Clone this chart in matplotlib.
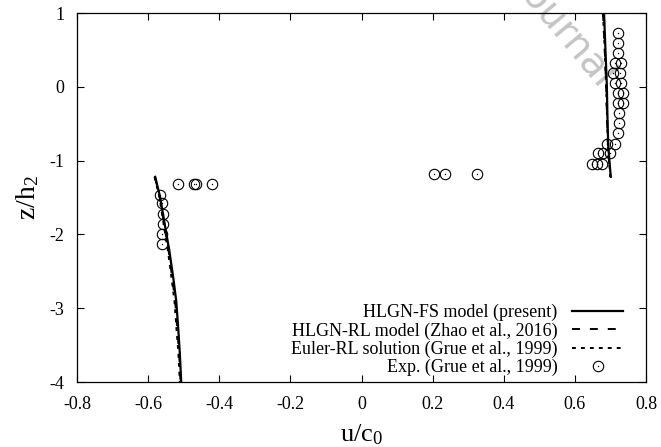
import numpy as np
from matplotlib import pyplot as plt

plt.rcParams['font.family'] = ['Liberation Serif', 'DejaVu Serif']
plt.rcParams['mathtext.fontset'] = 'custom'
plt.rcParams['mathtext.rm'] = 'Liberation Serif'
plt.rcParams['mathtext.it'] = 'Liberation Serif:italic'
plt.rcParams['axes.unicode_minus'] = False

# HLGN-FS model (present), two branches
fs_left_z = [-1.22, -1.5, -1.9, -2.2, -2.6, -2.9, -3.3, -3.6, -4.0]
fs_left_u = [-0.580, -0.566, -0.552, -0.541, -0.529, -0.521, -0.515, -0.511, -0.507]
fs_right_z = [1.0, 0.5, 0.0, -0.5, -0.8, -1.0, -1.22]
fs_right_u = [0.682, 0.686, 0.690, 0.692, 0.694, 0.697, 0.701]

# HLGN-RL model (Zhao et al., 2016)
rl_left_z = [-1.22, -1.5, -1.9, -2.2, -2.6, -2.9, -3.3, -3.6, -4.0]
rl_left_u = [-0.581, -0.567, -0.554, -0.543, -0.532, -0.524, -0.518, -0.513, -0.509]
rl_right_z = [1.0, 0.5, 0.0, -0.5, -0.8, -1.0, -1.22]
rl_right_u = [0.679, 0.684, 0.688, 0.691, 0.693, 0.696, 0.700]

# Euler-RL solution (Grue et al., 1999)
eu_left_z = [-1.22, -1.5, -1.9, -2.2, -2.6, -2.9, -3.3, -3.6, -4.0]
eu_left_u = [-0.582, -0.568, -0.555, -0.545, -0.534, -0.526, -0.520, -0.515, -0.511]
eu_right_z = [1.0, 0.5, 0.0, -0.5, -0.8, -1.0, -1.22]
eu_right_u = [0.679, 0.684, 0.688, 0.691, 0.693, 0.696, 0.700]

# Exp. (Grue et al., 1999)
exp_u = [-0.515, -0.470, -0.465, -0.420, -0.567, -0.562, -0.559, -0.557, -0.560, -0.562,
         0.205, 0.235, 0.324,
         0.722, 0.722, 0.722, 0.713, 0.729, 0.708, 0.727, 0.713, 0.729, 0.722, 0.736,
         0.722, 0.736, 0.725, 0.725, 0.722, 0.713, 0.690, 0.699, 0.680, 0.666,
         0.675, 0.661, 0.647]
exp_z = [-1.32, -1.32, -1.32, -1.32, -1.46, -1.58, -1.73, -1.86, -2.00, -2.13,
         -1.18, -1.18, -1.18,
         0.725, 0.59, 0.455, 0.32, 0.32, 0.185, 0.185, 0.05, 0.05, -0.09, -0.09,
         -0.225, -0.225, -0.36, -0.495, -0.63, -0.77, -0.77, -0.90, -0.90, -0.90,
         -1.04, -1.04, -1.04]

xticks = [-0.8, -0.6, -0.4, -0.2, 0, 0.2, 0.4, 0.6, 0.8]
xticklabels = ['-0.8', '-0.6', '-0.4', '-0.2', '0', '0.2', '0.4', '0.6', '0.8']
yticks = [-4, -3, -2, -1, 0, 1]
yticklabels = ['-4', '-3', '-2', '-1', '0', '1']

fig = plt.figure(figsize=(6.61, 4.47), dpi=100)
ax = fig.add_axes([0.1165, 0.1454, 0.9773 - 0.1165, 0.9709 - 0.1454])
ax.patch.set_alpha(0)

fs, = ax.plot(fs_left_u, fs_left_z, color='black', linewidth=1.6)
ax.plot(fs_right_u, fs_right_z, color='black', linewidth=1.6)
rl, = ax.plot(rl_left_u, rl_left_z, color='black', linewidth=1.4, dashes=[4.1, 5.1])
ax.plot(rl_right_u, rl_right_z, color='black', linewidth=1.4, dashes=[4.1, 5.1])
eu, = ax.plot(eu_left_u, eu_left_z, color='black', linewidth=1.4, dashes=[2.0, 2.6])
ax.plot(eu_right_u, eu_right_z, color='black', linewidth=1.4, dashes=[2.0, 2.6])
ex1, = ax.plot(exp_u, exp_z, linestyle='none', marker='o', markersize=7.5,
               markerfacecolor='none', markeredgecolor='black', markeredgewidth=0.8)
ex2, = ax.plot(exp_u, exp_z, linestyle='none', marker='o', markersize=1.0,
               markerfacecolor='black', markeredgecolor='black', markeredgewidth=0)

ax.set_xlim(-0.8, 0.8)
ax.set_ylim(-4, 1)
ax.set_xticks(xticks)
ax.set_xticklabels(xticklabels)
ax.set_yticks(yticks)
ax.set_yticklabels(yticklabels)
ax.tick_params(direction='in', length=5, width=0.8, top=True, right=True,
               labelsize=13, pad=9, colors='black')
ax.tick_params(axis='x', pad=10)
for s in ax.spines.values():
    s.set_linewidth(0.9)

ax.set_xlabel('u/c$_0$', fontsize=19, labelpad=7)
ax.set_ylabel('z/h$_2$', fontsize=20, labelpad=6)

leg = ax.legend([fs, rl, eu, (ex1, ex2)],
                ['HLGN-FS model (present)', 'HLGN-RL model (Zhao et al., 2016)',
                 'Euler-RL solution (Grue et al., 1999)', 'Exp. (Grue et al., 1999)'],
                loc='lower right', bbox_to_anchor=(0.960, 0.016), frameon=False,
                markerfirst=False, fontsize=13, handlelength=2.85, handletextpad=0.8,
                labelspacing=0.05, borderaxespad=0.0, borderpad=0.0)

# faint watermark left over from the source page
fig.text(600 / 661, 1 - 88 / 447, 'Journal', fontsize=28, color='#c4c4c4',
         rotation=-50, rotation_mode='anchor', ha='right', va='baseline',
         family='DejaVu Sans', zorder=-1)

plt.savefig('out.png', dpi=100)
